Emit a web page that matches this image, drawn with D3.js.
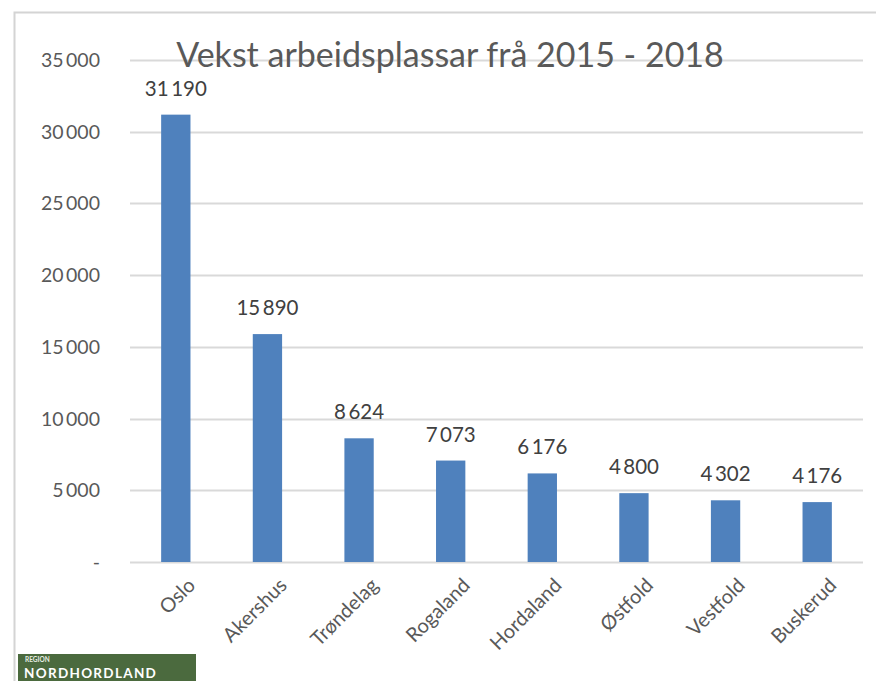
<!DOCTYPE html>
<html>
<head>
<meta charset="utf-8">
<script src="https://cdn.jsdelivr.net/npm/d3@7"></script>
<style>
  body { margin: 0; background: #fff; }
  svg { display: block; font-family: Lato, "Open Sans", sans-serif; }
</style>
</head>
<body>
<script>
"use strict";
const fylke = ["Oslo", "Akershus", "Trøndelag", "Rogaland", "Hordaland", "Østfold", "Vestfold", "Buskerud"];
const vekst = [31190, 15890, 8624, 7073, 6176, 4800, 4302, 4176];
const yTicks = [0, 5000, 10000, 15000, 20000, 25000, 30000, 35000];
const title = "Vekst arbeidsplassar frå 2015 - 2018";

const size = { width: 876, height: 681, left: 130, right: 863, top: 60, bottom: 562 };

const svg = d3.select("body").append("svg")
    .attr("width", size.width)
    .attr("height", size.height);

// frame of the chart area
svg.append("path")
    .attr("d", "M14.5,681 V12.5 H876")
    .attr("fill", "none")
    .attr("stroke", "#d4d4d4")
    .attr("stroke-width", 2);

const x = d3.scaleBand()
    .domain(fylke)
    .range([size.left, size.right])
    .paddingInner(0.68)
    .paddingOuter(0.34);

const y = d3.scaleLinear()
    .domain([0, 35000])
    .range([size.bottom, size.top]);

const fmt = v => v === 0 ? "-" : d3.format(",")(v).replace(/,/g, "\u2009");

// gridlines
svg.append("g").selectAll("line")
    .data(yTicks)
    .join("line")
    .attr("x1", size.left).attr("x2", size.right)
    .attr("y1", d => Math.round(y(d)) + 0.5).attr("y2", d => Math.round(y(d)) + 0.5)
    .attr("stroke", "#d9d9d9")
    .attr("stroke-width", 2);

// y tick labels
svg.append("g").selectAll("text")
    .data(yTicks)
    .join("text")
    .attr("x", 100)
    .attr("y", d => y(d) + 7)
    .attr("text-anchor", "end")
    .attr("fill", "#595959")
    .style("font-size", "19.5px")
    .text(fmt);

// bars
svg.append("g").selectAll("rect")
    .data(vekst)
    .join("rect")
    .attr("x", (d, i) => x(fylke[i]))
    .attr("width", x.bandwidth())
    .attr("y", d => y(d))
    .attr("height", d => y(0) - y(d))
    .attr("fill", "#4f81bd");

// value labels
svg.append("g").selectAll("text")
    .data(vekst)
    .join("text")
    .attr("x", (d, i) => x(fylke[i]) + x.bandwidth() / 2)
    .attr("y", d => y(d) - 19)
    .attr("text-anchor", "middle")
    .attr("fill", "#404040")
    .style("font-size", "20.5px")
    .text(fmt);

// category labels
svg.append("g").selectAll("text")
    .data(fylke)
    .join("text")
    .attr("transform", d => "translate(" + (x(d) + x.bandwidth() / 2 + 10) + "," + (size.bottom + 14) + ") rotate(-45)")
    .attr("text-anchor", "end")
    .attr("dy", "0.75em")
    .attr("fill", "#595959")
    .style("font-size", "20px")
    .text(d => d);

// title
svg.append("text")
    .attr("x", 450)
    .attr("y", 67)
    .attr("text-anchor", "middle")
    .attr("fill", "#595959")
    .style("font-size", "34px")
    .text(title);

// logo
const logo = svg.append("g").attr("transform", "translate(18,654)");
logo.append("rect")
    .attr("width", 178).attr("height", 27)
    .attr("fill", "#4b6a3e");
logo.append("text")
    .attr("x", 7).attr("y", 8)
    .attr("fill", "#e8efe4")
    .style("font-size", "6.5px")
    .style("font-weight", "bold")
    .text("REGION");
logo.append("text")
    .attr("x", 6).attr("y", 24)
    .attr("fill", "#ffffff")
    .style("font-size", "13.5px")
    .style("font-weight", "bold")
    .style("letter-spacing", "1.3px")
    .text("NORDHORDLAND");
</script>
</body>
</html>
